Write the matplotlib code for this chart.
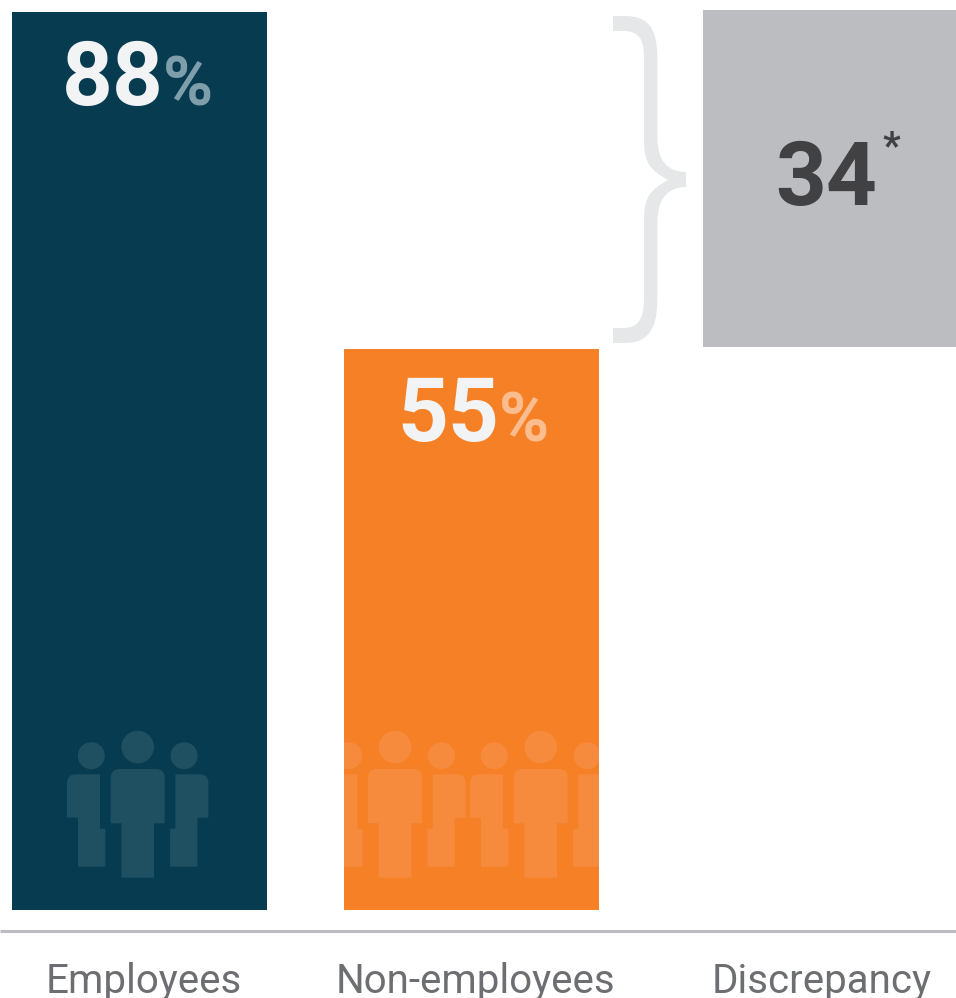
import matplotlib
matplotlib.use('Agg')
import matplotlib.pyplot as plt
from matplotlib.patches import Circle, PathPatch
from matplotlib.path import Path

categories = ['Employees', 'Non-employees']
shares = [88, 55]
discrepancy_label = 'Discrepancy'
discrepancy = 34

NAVY = '#073B50'
ORANGE = '#F68026'
GREY = '#BCBDC0'
BRACE = '#E6E7E9'
DARK = '#414042'
LABEL = '#6D6E71'
NUMBER = '#F1F3F5'

W, H = 956, 998
plt.rcParams['font.family'] = ['Roboto', 'DejaVu Sans']

fig = plt.figure(figsize=(W / 100, H / 100), dpi=100, facecolor='white')


def px_axes(x0, y0, x1, y1):
    # axes placed by pixel box, y counted from the top
    a = fig.add_axes([x0 / W, 1 - y1 / H, (x1 - x0) / W, (y1 - y0) / H])
    a.axis('off')
    return a


bar_w = 255 / 332
ax = px_axes(12, 12, 599, 910)
ax.set_xlim(-bar_w / 2, 1 + bar_w / 2)
ax.set_ylim(0, max(shares))
bars = ax.bar(range(len(shares)), shares, width=bar_w, color=[NAVY, ORANGE])

ax2 = px_axes(703, 10, 956, 347)
ax2.set_xlim(-0.5, 0.5)
ax2.set_ylim(0, discrepancy)
ax2.bar([0], [discrepancy], width=1, color=GREY)

# overlay in pixel units for icons, brace, rule and text
ov = px_axes(0, 0, W, H)
ov.set_xlim(0, W)
ov.set_ylim(H, 0)
ov.patch.set_alpha(0)


def person_centre(cx, color, clip):
    ov.add_patch(Circle((cx, 747), 16.3, fc=color, ec='none')).set_clip_path(clip)
    r = 9
    verts = [(cx - 27, 823.3), (cx - 27, 769 + r), (cx - 27, 769), (cx - 27 + r, 769),
             (cx + 27 - r, 769), (cx + 27, 769), (cx + 27, 769 + r), (cx + 27, 823.3),
             (cx + 16.3, 823.3), (cx + 16.3, 877.7), (cx - 16.3, 877.7), (cx - 16.3, 823.3),
             (cx - 27, 823.3)]
    codes = [Path.MOVETO, Path.LINETO, Path.CURVE3, Path.CURVE3,
             Path.LINETO, Path.CURVE3, Path.CURVE3, Path.LINETO,
             Path.LINETO, Path.LINETO, Path.LINETO, Path.LINETO, Path.CLOSEPOLY]
    ov.add_patch(PathPatch(Path(verts, codes), fc=color, ec='none')).set_clip_path(clip)


def person_side(cx, d, color, clip):
    # d = -1 is the left hand figure, d = 1 the right hand one
    ov.add_patch(Circle((cx + d * 46.4, 755.7), 13.5, fc=color, ec='none')).set_clip_path(clip)
    r = 9
    x = lambda off: cx + d * off
    verts = [(x(37.7), 774.3), (x(70.7 - r), 774.3), (x(70.7), 774.3), (x(70.7), 774.3 + r),
             (x(70.7), 817.7), (x(59.7), 817.7), (x(59.7), 866.7), (x(32.4), 866.7),
             (x(32.4), 828.7), (x(37.7), 828.7), (x(37.7), 774.3)]
    codes = [Path.MOVETO, Path.LINETO, Path.CURVE3, Path.CURVE3,
             Path.LINETO, Path.LINETO, Path.LINETO, Path.LINETO,
             Path.LINETO, Path.LINETO, Path.CLOSEPOLY]
    ov.add_patch(PathPatch(Path(verts, codes), fc=color, ec='none')).set_clip_path(clip)


def group(cx, color, clip):
    person_centre(cx, color, clip)
    person_side(cx, -1, color, clip)
    person_side(cx, 1, color, clip)


group(137.7, '#1F5061', bars[0])
group(395, '#F68B3D', bars[1])
group(540.7, '#F68B3D', bars[1])

# curly brace between the two bar tops
brace_pts = [
    ('M', (613, 16)), ('L', (625, 16)),
    ('C', (647, 16), (657.3, 27), (657.3, 57)), ('L', (657.3, 137)),
    ('C', (657.3, 160), (667, 172), (686, 172)), ('L', (686, 187)),
    ('C', (667, 187), (657.3, 200), (657.3, 223)), ('L', (657.3, 300)),
    ('C', (657.3, 330), (647, 343), (625, 343)), ('L', (613, 343)), ('L', (613, 328)), ('L', (623, 328)),
    ('C', (638, 328), (644, 320), (644, 297)), ('L', (644, 220)),
    ('C', (644, 197), (650, 190), (668, 180)),
    ('C', (650, 170), (644, 163), (644, 140)), ('L', (644, 57)),
    ('C', (644, 38), (638, 31), (623, 31)), ('L', (613, 31)),
]
verts, codes = [], []
for seg in brace_pts:
    if seg[0] == 'C':
        verts += list(seg[1:])
        codes += [Path.CURVE4] * 3
    else:
        verts.append(seg[1])
        codes.append(Path.MOVETO if seg[0] == 'M' else Path.LINETO)
verts.append((613, 16))
codes.append(Path.CLOSEPOLY)
ov.add_patch(PathPatch(Path(verts, codes), fc=BRACE, ec='none'))

ov.plot([0, W], [931, 931], color=GREY, lw=2.2, solid_capstyle='butt')

# value labels
big = dict(fontsize=64, fontweight='bold', va='baseline')
pct = dict(fontsize=49, fontweight='bold', va='baseline', ha='left')
ov.text(164, 105, str(shares[0]), color=NUMBER, ha='right', **big)
ov.text(163, 105, '%', color='#7F9EAB', **pct)
ov.text(499, 441, str(shares[1]), color=NUMBER, ha='right', **big)
ov.text(499, 441, '%', color='#FBBD8E', **pct)
ov.text(877, 205, str(discrepancy), color=DARK, ha='right', **big)
ov.text(891, 158, '*', color=DARK, fontsize=28, fontweight='bold', ha='center', va='baseline')

# category labels, cut by the lower edge as in the layout
names = categories + [discrepancy_label]
for name, cx in zip(names, [143.5, 475, 822]):
    ov.text(cx, 993, name, color=LABEL, fontsize=29, ha='center', va='baseline')

fig.savefig('out.png', dpi=100)
